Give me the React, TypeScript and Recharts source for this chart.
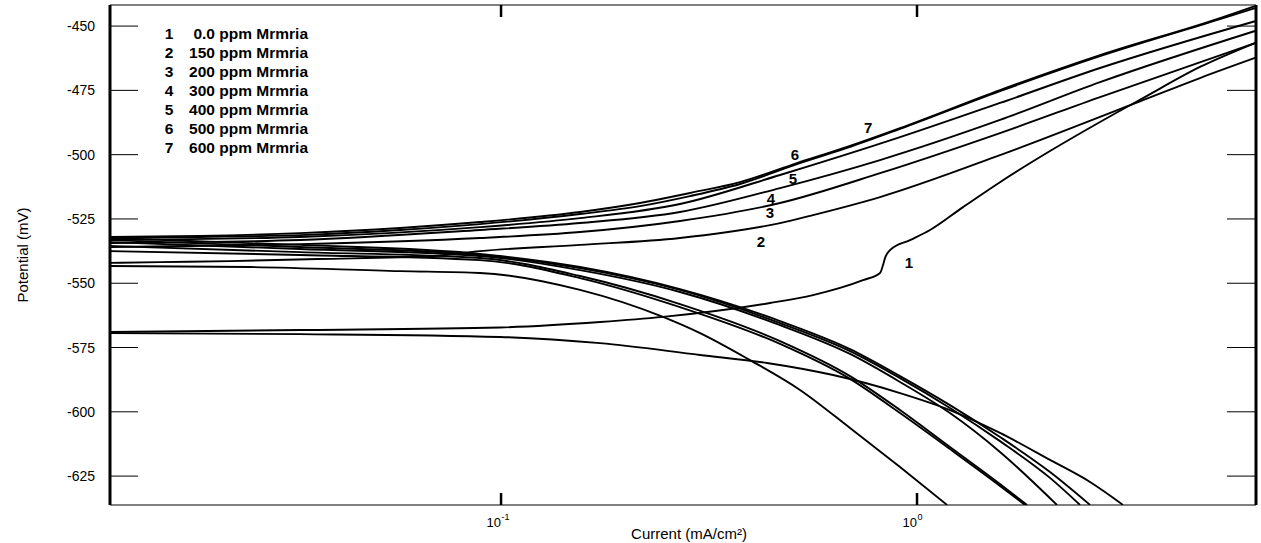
import React from "react";
import { LineChart, Line, XAxis, YAxis, ReferenceLine, ReferenceDot, Legend } from "recharts";

// Polarisation (Tafel) curves, mild steel + Mrmria inhibitor
// Each curve = anodic branch (upper) + cathodic branch (lower), [current mA/cm², potential mV]
type Pt = [number, number];

const anodic1: Pt[] = [[0.01136, -569.0], [0.03287, -568.2], [0.09945, -567.2], [0.173, -565.1], [0.2451, -563.1], [0.4431, -557.7], [0.5623, -554.6], [0.7415, -548.8], [0.8148, -546.0], [0.8285, -542.9], [0.8377, -540.2], [0.8611, -537.1], [0.962, -533.2], [1.075, -529.3], [1.29, -520.4], [1.583, -510.7], [2.088, -498.6], [2.754, -487.3], [3.494, -478.0], [4.789, -465.9], [6.494, -456.6]];
const cathodic1: Pt[] = [[0.01136, -569.4], [0.03287, -569.8], [0.09945, -570.9], [0.173, -573.3], [0.3009, -577.9], [0.4358, -581.0], [0.6283, -585.7], [0.9102, -592.7], [1.2, -599.3], [1.583, -608.2], [2.088, -618.7], [2.606, -627.3], [3.127, -636.2]];

const anodic2: Pt[] = [[0.01136, -542.1], [0.01515, -541.8], [0.02232, -541.4], [0.03612, -540.6], [0.06862, -539.4], [0.08902, -537.5], [0.1548, -535.1], [0.2693, -532.4], [0.4685, -526.6], [0.5623, -523.5], [0.8148, -516.5], [1.583, -500.2], [3.494, -478.8], [4.789, -470.2], [6.494, -462.4]];
const cathodic2: Pt[] = [[0.01136, -543.3], [0.02492, -543.7], [0.05717, -545.3], [0.08902, -546.0], [0.1548, -552.6], [0.2451, -563.1], [0.3009, -569.4], [0.3967, -579.9], [0.5232, -591.5], [0.6901, -606.3], [0.9102, -621.5], [1.181, -636.2]];

const anodic3: Pt[] = [[0.01136, -535.9], [0.03287, -534.8], [0.08902, -532.4], [0.1548, -530.1], [0.2693, -525.8], [0.4685, -518.8], [0.8148, -507.2], [1.583, -491.6], [2.754, -477.6], [6.494, -456.6]];
const cathodic3: Pt[] = [[0.01136, -537.5], [0.03287, -539.0], [0.08902, -541.0], [0.1548, -548.0], [0.2693, -559.3], [0.4685, -573.6], [0.6901, -587.2], [0.9102, -600.5], [1.2, -614.5], [1.583, -628.8], [1.818, -636.2]];

const anodic4: Pt[] = [[0.01136, -534.4], [0.03287, -533.2], [0.08902, -529.3], [0.1548, -526.6], [0.2693, -522.3], [0.4685, -513.0], [0.8148, -502.1], [1.583, -486.5], [2.754, -471.8], [6.494, -451.9]];
const cathodic4: Pt[] = [[0.01136, -535.5], [0.03287, -537.9], [0.08902, -540.2], [0.1548, -547.2], [0.2693, -558.1], [0.4685, -572.5], [0.6901, -586.1], [0.9102, -599.3], [1.2, -613.7], [1.583, -628.1], [1.838, -636.2]];

const anodic5: Pt[] = [[0.01136, -533.2], [0.03287, -532.0], [0.08902, -528.2], [0.1548, -524.7], [0.2693, -519.2], [0.4685, -507.9], [0.9102, -493.2], [1.583, -479.9], [2.754, -466.3], [6.494, -448.1]];
const cathodic5: Pt[] = [[0.01136, -534.0], [0.03287, -536.7], [0.08902, -539.4], [0.1548, -544.9], [0.2693, -553.4], [0.4685, -566.3], [0.6901, -577.5], [0.9102, -588.4], [1.2, -600.5], [1.583, -615.6], [2.17, -636.2]];

const anodic6: Pt[] = [[0.01136, -532.4], [0.01889, -532.0], [0.03287, -531.3], [0.05717, -529.3], [0.08902, -527.0], [0.1548, -523.1], [0.2158, -520.0], [0.2846, -516.1], [0.3754, -511.4], [0.5147, -503.7], [0.6788, -497.4], [0.9102, -490.0], [1.583, -475.3], [2.754, -461.7], [5.351, -447.3], [6.494, -443.0]];
const cathodic6: Pt[] = [[0.01136, -533.2], [0.03287, -535.9], [0.08902, -539.0], [0.1548, -544.1], [0.2693, -552.6], [0.4685, -565.5], [0.6901, -576.4], [0.9102, -586.9], [1.2, -598.5], [1.583, -611.4], [2.088, -625.7], [2.465, -636.2]];

const anodic7: Pt[] = [[0.01136, -532.0], [0.01889, -531.6], [0.03287, -530.5], [0.05717, -528.5], [0.08902, -526.2], [0.1548, -522.3], [0.2158, -518.8], [0.2846, -514.9], [0.3754, -510.7], [0.5147, -503.3], [0.6788, -497.0], [0.9102, -489.7], [1.583, -474.9], [2.754, -461.3], [5.351, -446.9], [6.494, -442.2]];
const cathodic7: Pt[] = [[0.01136, -532.4], [0.03287, -535.1], [0.08902, -538.6], [0.1548, -543.7], [0.2693, -552.3], [0.4685, -564.7], [0.6901, -575.6], [0.9102, -586.1], [1.2, -597.4], [1.583, -609.8], [2.088, -623.4], [2.606, -636.2]];

const branches: Pt[][] = [
  anodic1, cathodic1, anodic2, cathodic2, anodic3, cathodic3, anodic4,
  cathodic4, anodic5, cathodic5, anodic6, cathodic6, anodic7, cathodic7,
];

// legend + curve number tags
const curveIds = ["1", "2", "3", "4", "5", "6", "7"];
const concentrations = ["0.0", "150", "200", "300", "400", "500", "600"];
const tagCurrent = [0.9567, 0.4217, 0.4432, 0.4457, 0.5034, 0.509, 0.7626];
const tagPotential = [-541.8, -534.0, -522.7, -516.9, -509.5, -499.8, -489.3];

const xTicks = [0.1, 1];
const yTicks = [-625, -600, -575, -550, -525, -500, -475, -450];
const X_DOMAIN: [number, number] = [0.01148, 6.53];
const Y_DOMAIN: [number, number] = [-636.24, -441.8];

const FONT = "Arial, 'Liberation Sans', sans-serif";
const PLOT_TOP = 5;
const PLOT_BOTTOM = 505;
const PLOT_LEFT = 110;
const PLOT_RIGHT = 1256;

function toRows(pts: Pt[]) {
  return pts.map(([i, e]) => ({ i, e }));
}

function YTick(props: any) {
  const { y, payload } = props;
  return (
    <g>
      <line x1={PLOT_LEFT + 1} x2={PLOT_LEFT + 28} y1={y} y2={y} stroke="#000" strokeWidth={1} />
      <line x1={PLOT_RIGHT - 29} x2={PLOT_RIGHT - 1} y1={y} y2={y} stroke="#000" strokeWidth={1} />
      <text x={95} y={y} dy="0.36em" textAnchor="end" fontSize={14} fontFamily={FONT} fill="#000">
        {payload.value}
      </text>
    </g>
  );
}

function XTick(props: any) {
  const { x, payload } = props;
  const exp = Math.round(Math.log10(payload.value));
  return (
    <g>
      <line x1={x} x2={x} y1={PLOT_BOTTOM} y2={PLOT_BOTTOM - 12} stroke="#000" strokeWidth={2.5} />
      <line x1={x} x2={x} y1={PLOT_TOP} y2={PLOT_TOP + 12} stroke="#000" strokeWidth={2.5} />
      <text x={x} y={527} textAnchor="end" fontSize={13} fontFamily={FONT} fill="#000">10</text>
      <text x={x + 0.5} y={520} textAnchor="start" fontSize={9} fontFamily={FONT} fill="#000">{exp}</text>
    </g>
  );
}

function LegendBlock() {
  return (
    <div style={{ fontFamily: FONT, fontWeight: 700, fontSize: 15.5, color: "#000", lineHeight: "19px" }}>
      {curveIds.map((id, k) => (
        <div key={id} style={{ display: "flex", height: 19 }}>
          <span style={{ width: 22, textAlign: "center" }}>{id}</span>
          <span style={{ flex: 1, textAlign: "right" }}>{concentrations[k]} ppm Mrmria</span>
        </div>
      ))}
    </div>
  );
}

export default function App() {
  return (
    <div style={{ width: 1261, height: 543, background: "#fff" }}>
      <style>{"body{margin:0;background:#fff}"}</style>
      <LineChart width={1261} height={543} margin={{ top: 5, right: 5, left: 1, bottom: 0 }}>
        <XAxis
          dataKey="i"
          type="number"
          scale="log"
          domain={X_DOMAIN}
          allowDataOverflow
          ticks={xTicks}
          interval={0}
          tick={XTick}
          tickLine={false}
          axisLine={{ stroke: "#000", strokeWidth: 1 }}
          height={38}
          label={{
            content: () => (
              <text x={689} y={539} textAnchor="middle" fontSize={15} fontFamily={FONT} fill="#000">
                Current (mA/cm²)
              </text>
            ),
          }}
        />
        <YAxis
          type="number"
          domain={Y_DOMAIN}
          allowDataOverflow
          ticks={yTicks}
          interval={0}
          tick={YTick}
          tickLine={false}
          axisLine={{ stroke: "#000", strokeWidth: 3 }}
          width={109}
          label={{
            content: () => (
              <text
                transform="translate(28,255) rotate(-90)"
                textAnchor="middle"
                fontSize={15}
                fontFamily={FONT}
                fill="#000"
              >
                Potential (mV)
              </text>
            ),
          }}
        />
        <ReferenceLine y={Y_DOMAIN[1]} stroke="#000" strokeWidth={1} />
        <ReferenceLine x={X_DOMAIN[1]} stroke="#000" strokeWidth={3} />

        {branches.map((b, k) => (
          <Line
            key={k}
            data={toRows(b)}
            dataKey="e"
            type="monotone"
            stroke="#000"
            strokeWidth={1.9}
            dot={false}
            activeDot={false}
            legendType="none"
            isAnimationActive={false}
          />
        ))}

        {curveIds.map((id, k) => (
          <ReferenceDot
            key={id}
            x={tagCurrent[k]}
            y={tagPotential[k]}
            r={0}
            shape={(p: any) => (
              <text
                x={p.cx}
                y={p.cy}
                dy="0.36em"
                textAnchor="middle"
                fontSize={15}
                fontWeight={700}
                fontFamily={FONT}
                fill="#000"
              >
                {id}
              </text>
            )}
          />
        ))}

        <Legend
          layout="vertical"
          align="center"
          verticalAlign="middle"
          wrapperStyle={{ top: 24, left: 158, width: 150 }}
          content={() => <LegendBlock />}
        />
      </LineChart>
    </div>
  );
}
